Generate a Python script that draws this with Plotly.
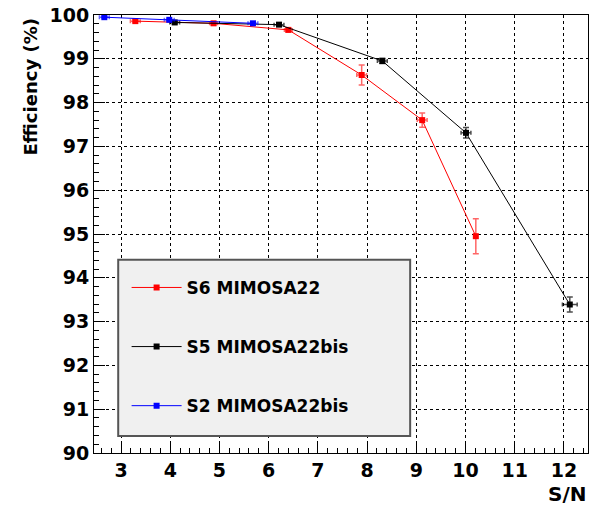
import plotly.graph_objects as go

# S6 MIMOSA22 (red)
s6_x = [3.29, 4.88, 6.40, 7.89, 9.12, 10.21]
s6_y = [99.86, 99.81, 99.66, 98.63, 97.60, 94.95]
s6_ey = [0.03, 0.03, 0.04, 0.23, 0.16, 0.40]
s6_ex = [0.10, 0.08, 0.08, 0.10, 0.10, 0.02]

# S5 MIMOSA22bis (black)
s5_x = [4.09, 6.21, 8.31, 10.01, 12.12]
s5_y = [99.83, 99.78, 98.95, 97.31, 93.39]
s5_ey = [0.03, 0.03, 0.06, 0.12, 0.17]
s5_ex = [0.10, 0.10, 0.10, 0.10, 0.15]

# S2 MIMOSA22bis (blue)
s2_x = [2.66, 3.98, 5.68]
s2_y = [99.95, 99.89, 99.81]
s2_ey = [0.02, 0.02, 0.03]
s2_ex = [0.10, 0.10, 0.10]

x_ticks = [3, 4, 5, 6, 7, 8, 9, 10, 11, 12]
y_ticks = [90, 91, 92, 93, 94, 95, 96, 97, 98, 99, 100]

FONT = "DejaVu Sans, sans-serif"

fig = go.Figure()

def add(name, xs, ys, exs, eys, color, ecolor, group):
    fig.add_trace(go.Scatter(
        x=xs, y=ys, mode="lines+markers", name=name,
        legendgroup=group,
        line=dict(color=color, width=1),
        marker=dict(symbol="square", size=6, color=color),
        error_y=dict(type="data", array=eys, color=ecolor, thickness=1.5, width=3),
        error_x=dict(type="data", array=exs, color=ecolor, thickness=1.5, width=2),
    ))

add("S6 MIMOSA22", s6_x, s6_y, s6_ex, s6_ey, "#ff0000", "rgba(255,0,0,0.6)", "a")
add("S5 MIMOSA22bis", s5_x, s5_y, s5_ex, s5_ey, "#000000", "rgba(0,0,0,0.7)", "b")
add("S2 MIMOSA22bis", s2_x, s2_y, s2_ex, s2_ey, "#0000ff", "rgba(0,0,255,0.6)", "c")

axis_common = dict(
    showline=True, linecolor="black", linewidth=1, mirror=True,
    ticks="inside", ticklen=11, tickcolor="black", tickwidth=1,
    showgrid=True, gridcolor="black", griddash="dot", gridwidth=1,
    zeroline=False,
    tickfont=dict(family=FONT, size=19, color="black", weight="bold"),
    minor=dict(ticks="inside", ticklen=5, tickcolor="black", dtick=0.2, showgrid=False),
)

fig.update_xaxes(range=[2.45, 12.49], tickvals=x_ticks, ticktext=[str(v) for v in x_ticks], **axis_common)
fig.update_yaxes(range=[90, 100], tickvals=y_ticks, ticktext=[str(v) for v in y_ticks], **axis_common)

fig.update_layout(
    width=590, height=506,
    margin=dict(l=94, r=2, t=15, b=53),
    plot_bgcolor="white", paper_bgcolor="white",
    showlegend=True,
    legend=dict(
        x=0.066, y=0.418, xanchor="left", yanchor="top",
        bgcolor="rgba(0,0,0,0)", borderwidth=0,
        font=dict(family=FONT, size=17, color="black", weight="bold"),
        tracegroupgap=34, itemwidth=50,
    ),
    shapes=[
        dict(type="rect", xref="paper", yref="paper",
             x0=0.049, x1=0.640, y0=0.039, y1=0.441,
             fillcolor="#f0f0f0", line=dict(color="#555555", width=2), layer="above"),
    ],
    annotations=[
        dict(text="S/N", xref="paper", yref="paper", x=1, y=0, xanchor="right", yanchor="top",
             yshift=-27, showarrow=False,
             font=dict(family=FONT, size=20, color="black", weight="bold")),
        dict(text="Efficiency (%)", xref="paper", yref="paper", x=0, y=1, xanchor="center",
             yanchor="top", xshift=-64, yshift=-2, textangle=-90, showarrow=False,
             font=dict(family=FONT, size=18, color="black", weight="bold")),
    ],
)

fig.write_html("out.html")
